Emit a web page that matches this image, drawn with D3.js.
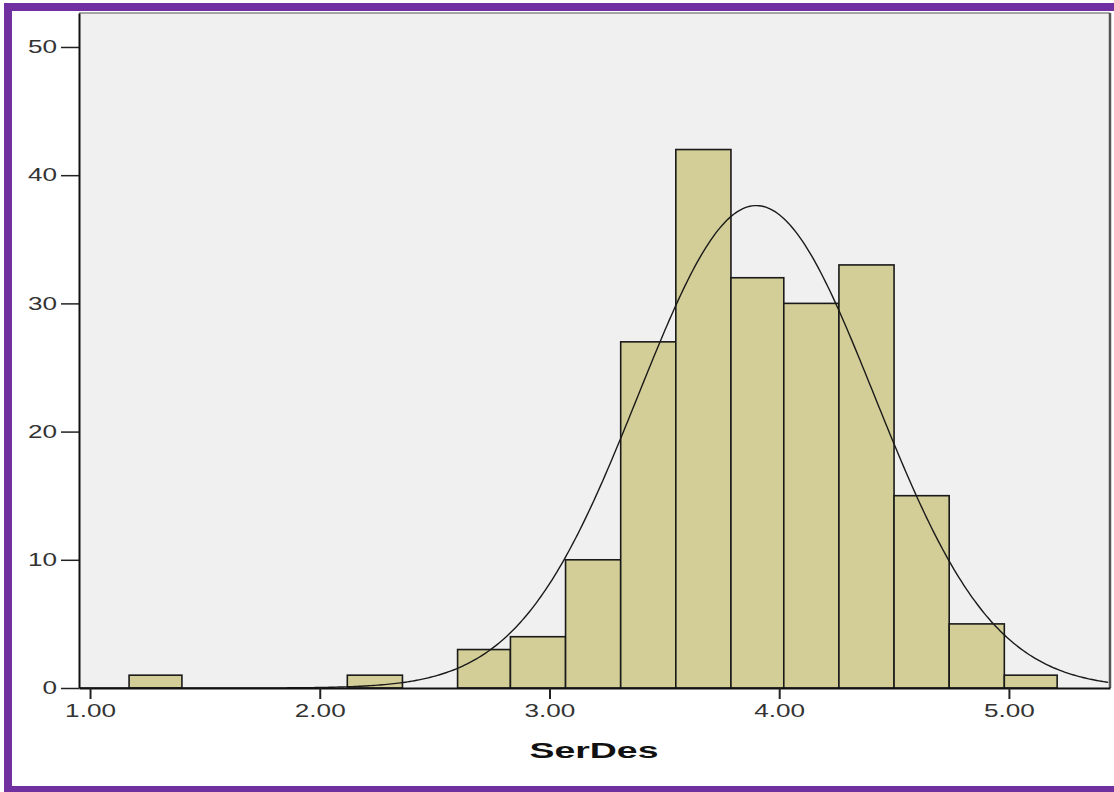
<!DOCTYPE html>
<html>
<head>
<meta charset="utf-8">
<script src="https://cdn.jsdelivr.net/npm/d3@7"></script>
<style>
  body { margin: 0; background: #fff; }
  svg { display: block; }
</style>
</head>
<body>
<svg id="chart" width="1114" height="792"></svg>
<script>
// histogram bins (edges) and frequencies
const binEdges = [1.17, 1.40, 1.64, 1.88, 2.12, 2.36, 2.60, 2.83, 3.07, 3.31, 3.55, 3.79, 4.02, 4.26, 4.50, 4.74, 4.98, 5.21];
const counts   = [1, 0, 0, 0, 1, 0, 3, 4, 10, 27, 42, 32, 30, 33, 15, 5, 1];
const xTicks = [1, 2, 3, 4, 5];
const yTicks = [0, 10, 20, 30, 40, 50];
const xLabel = "SerDes";
// normal curve parameters
const mean = 3.90;
const sd = 0.514;
const nTotal = 204;

const svg = d3.select("#chart");
const plot = {left: 79, right: 1110, top: 13, bottom: 688};

const x = d3.scaleLinear([0.952, 5.44], [plot.left, plot.right]);
const y = d3.scaleLinear([0, 52.65], [plot.bottom, plot.top]);

// purple frame
svg.append("rect")
    .attr("x", 8).attr("y", 7)
    .attr("width", 1130).attr("height", 783)
    .attr("fill", "#fff")
    .attr("stroke", "#7030a0")
    .attr("stroke-width", 8);

// plot background
svg.append("rect")
    .attr("x", plot.left).attr("y", plot.top)
    .attr("width", plot.right - plot.left).attr("height", plot.bottom - plot.top)
    .attr("fill", "#f0f0f0");
svg.append("line")
    .attr("x1", plot.left).attr("x2", plot.right)
    .attr("y1", plot.top).attr("y2", plot.top)
    .attr("stroke", "#8a8a8a").attr("stroke-width", 1.5);
svg.append("line")
    .attr("x1", plot.right).attr("x2", plot.right)
    .attr("y1", plot.top).attr("y2", plot.bottom)
    .attr("stroke", "#555").attr("stroke-width", 2.5);

svg.append("clipPath").attr("id", "clip")
    .append("rect")
    .attr("x", plot.left).attr("y", plot.top)
    .attr("width", plot.right - plot.left).attr("height", plot.bottom - plot.top);

const bins = counts.map((c, i) => ({x0: binEdges[i], x1: binEdges[i + 1], n: c}))
    .filter(d => d.n > 0);

svg.append("g").selectAll("rect")
    .data(bins)
    .join("rect")
    .attr("x", d => x(d.x0))
    .attr("y", d => y(d.n))
    .attr("width", d => x(d.x1) - x(d.x0))
    .attr("height", d => y(0) - y(d.n))
    .attr("fill", "#d3ce97")
    .attr("stroke", "#1a1a1a")
    .attr("stroke-width", 1.6);

// normal curve, scaled to counts with the mean bin width
const binW = (binEdges[binEdges.length - 1] - binEdges[0]) / counts.length;
const curveX = d3.range(0.952, 5.44, 0.01);
const normal = v => nTotal * binW / (sd * Math.sqrt(2 * Math.PI)) * Math.exp(-0.5 * ((v - mean) / sd) ** 2);
svg.append("path")
    .datum(curveX)
    .attr("clip-path", "url(#clip)")
    .attr("fill", "none")
    .attr("stroke", "#1a1a1a")
    .attr("stroke-width", 1.4)
    .attr("d", d3.line().x(d => x(d)).y(d => y(normal(d))));

function stretch(sel, k) {
    sel.attr("textLength", function() { return this.getComputedTextLength() * k; })
       .attr("lengthAdjust", "spacingAndGlyphs");
}

// y axis
const gy = svg.append("g")
    .attr("transform", `translate(${plot.left},0)`)
    .call(d3.axisLeft(y).tickValues(yTicks).tickSize(18).tickPadding(4).tickSizeOuter(0));
gy.select(".domain").attr("stroke", "#111").attr("stroke-width", 2);
gy.selectAll(".tick line").attr("stroke", "#222").attr("stroke-width", 1.5);
gy.selectAll(".tick text")
    .attr("font-family", "Liberation Sans, Arial, sans-serif")
    .attr("font-size", 18)
    .attr("fill", "#333");
stretch(gy.selectAll(".tick text"), 1.45);

// x axis
const gx = svg.append("g")
    .attr("transform", `translate(0,${plot.bottom})`)
    .call(d3.axisBottom(x).tickValues(xTicks).tickFormat(d3.format(".2f")).tickSize(11).tickPadding(5).tickSizeOuter(0));
gx.select(".domain").attr("stroke", "#111").attr("stroke-width", 2);
gx.selectAll(".tick line").attr("stroke", "#222").attr("stroke-width", 2);
gx.selectAll(".tick text")
    .attr("font-family", "Liberation Sans, Arial, sans-serif")
    .attr("font-size", 18)
    .attr("fill", "#333");
stretch(gx.selectAll(".tick text"), 1.45);

const title = svg.append("text")
    .attr("x", 594)
    .attr("y", 758)
    .attr("text-anchor", "middle")
    .attr("font-family", "Liberation Sans, Arial, sans-serif")
    .attr("font-weight", "bold")
    .attr("font-size", 22)
    .attr("fill", "#111")
    .text(xLabel);
stretch(title, 1.7);
</script>
</body>
</html>
